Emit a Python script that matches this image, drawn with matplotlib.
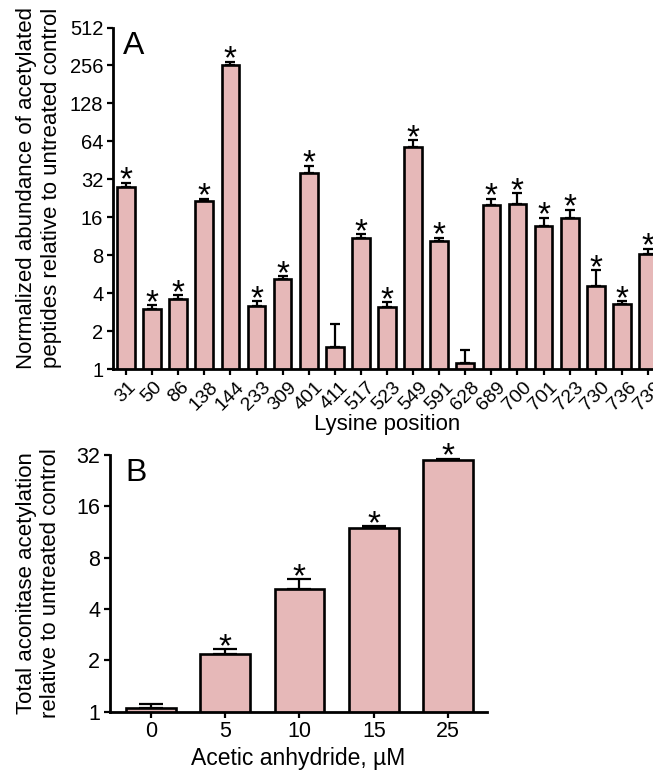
import numpy as np
import matplotlib
matplotlib.use("Agg")
import matplotlib.pyplot as plt
from matplotlib.ticker import FixedLocator, NullLocator

plt.rcParams['font.family'] = ['Liberation Sans', 'DejaVu Sans']

# Panel A: acetylation of individual lysine residues
lysine_positions = ["31", "50", "86", "138", "144", "233", "309", "401", "411", "517",
                    "523", "549", "591", "628", "689", "700", "701", "723", "730", "736", "739"]
lysine_means = [28.0, 3.0, 3.6, 21.6, 256.0, 3.18, 5.13, 36.2, 1.5, 11.0,
                3.1, 57.3, 10.4, 1.12, 20.1, 20.3, 13.7, 15.9, 4.56, 3.3, 8.24]
lysine_err_upper = [2.0, 0.2, 0.25, 0.9, 18.0, 0.29, 0.32, 4.8, 0.77, 0.7,
                    0.29, 7.7, 0.6, 0.29, 2.3, 4.4, 2.2, 2.5, 1.52, 0.17, 0.76]
lysine_significant = [True, True, True, True, True, True, True, True, False, True,
                      True, True, True, False, True, True, True, True, True, True, True]
a_yticks = [1, 2, 4, 8, 16, 32, 64, 128, 256, 512]

# Panel B: total aconitase acetylation vs acetic anhydride dose
dose_labels = ["0", "5", "10", "15", "25"]
dose_means = [1.055, 2.19, 5.27, 12.0, 30.0]
dose_err_upper = [0.05, 0.14, 0.71, 0.2, 0.4]
dose_significant = [False, True, True, True, True]
b_yticks = [1, 2, 4, 8, 16, 32]

BAR_COLOR = "#e6b8b8"
W, H = 653, 771

fig = plt.figure(figsize=(W / 100, H / 100), dpi=100)


def style_axes(ax):
    for side in ("top", "right"):
        ax.spines[side].set_visible(False)
    for side in ("left", "bottom"):
        ax.spines[side].set_linewidth(2.0)
    ax.tick_params(direction="out", length=4, width=1.6, colors="black", pad=3)


def draw_panel(ax, means, err_up, signif, width, capsize, star_size):
    x = np.arange(len(means))
    ax.bar(x, means, width=width, bottom=0, color=BAR_COLOR, edgecolor="black",
           linewidth=1.9, zorder=2)
    yerr = np.vstack([np.zeros(len(means)), err_up])
    ax.errorbar(x, means, yerr=yerr, fmt="none", ecolor="black", elinewidth=1.6,
                capsize=capsize, capthick=1.6, zorder=1)
    for xi, m, e, s in zip(x, means, err_up, signif):
        if s:
            ax.annotate("*", xy=(xi, m + e), xytext=(0, -5), textcoords="offset points",
                        ha="center", va="baseline", fontsize=star_size, zorder=3)
    return x


# ---- Panel A ----
axA = fig.add_axes([113 / W, 1 - 369 / H, (661 - 113) / W, (369 - 27.5) / H])
style_axes(axA)
axA.set_yscale("log", base=2)
xa = draw_panel(axA, lysine_means, lysine_err_upper, lysine_significant,
                width=0.68, capsize=3.8, star_size=24)
axA.set_ylim(1, 512)
axA.set_xlim(-0.5, 20.5)
axA.yaxis.set_major_locator(FixedLocator(a_yticks))
axA.yaxis.set_minor_locator(NullLocator())
axA.set_yticklabels([str(v) for v in a_yticks], fontsize=14.5)
axA.set_xticks(xa)
axA.set_xticklabels(lysine_positions, fontsize=14, rotation=45, ha="center")
axA.set_xlabel("Lysine position", fontsize=16, labelpad=0)
axA.text(0.018, 0.99, "A", transform=axA.transAxes, fontsize=23, ha="left", va="top")

fig.text(39 / W, 1 - 188 / H,
         "Normalized abundance of acetylated\npeptides relative to untreated control",
         rotation=90, ha="center", va="center", multialignment="center",
         fontsize=16, linespacing=1.2)

# ---- Panel B ----
axB = fig.add_axes([110 / W, 1 - 711.7 / H, (486.7 - 110) / W, (711.7 - 455) / H])
style_axes(axB)
axB.set_yscale("log", base=2)
xb = draw_panel(axB, dose_means, dose_err_upper, dose_significant,
                width=0.67, capsize=8.5, star_size=24)
axB.set_ylim(1, 32)
axB.set_xlim(-0.55, 4.52)
axB.yaxis.set_major_locator(FixedLocator(b_yticks))
axB.yaxis.set_minor_locator(NullLocator())
axB.set_yticklabels([str(v) for v in b_yticks], fontsize=15.5)
axB.set_xticks(xb)
axB.set_xticklabels(dose_labels, fontsize=15.5)
axB.set_xlabel("Acetic anhydride, \u00b5M", fontsize=16.5, labelpad=3)
axB.text(0.04, 0.99, "B", transform=axB.transAxes, fontsize=23, ha="left", va="top")

fig.text(38.5 / W, 1 - 583.5 / H,
         "Total aconitase acetylation\nrelative to untreated control",
         rotation=90, ha="center", va="center", multialignment="center",
         fontsize=16, linespacing=1.2)

fig.savefig("out.png", dpi=100)
